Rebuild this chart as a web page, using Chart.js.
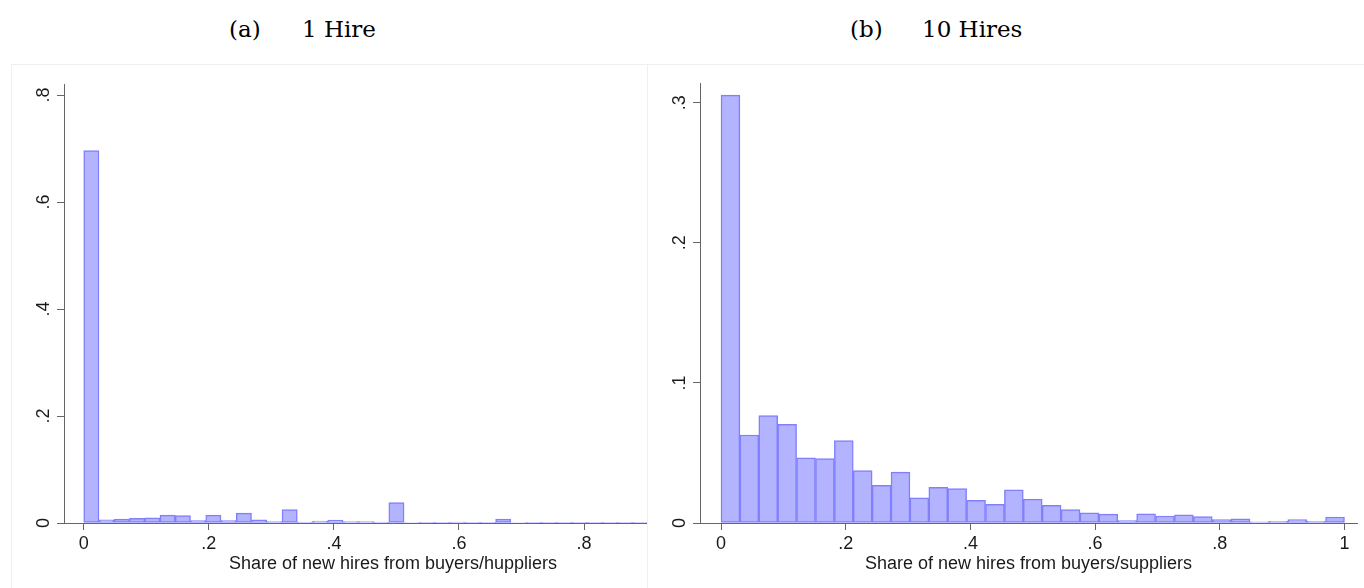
<!DOCTYPE html>
<html>
<head>
<meta charset="utf-8">
<script src="https://cdn.jsdelivr.net/npm/chart.js@4.4.0/dist/chart.umd.min.js"></script>
<style>
  body { margin: 0; background: #fff; width: 1364px; height: 588px; overflow: hidden; position: relative; }
  .title { position: absolute; top: 17.5px; font-family: 'DejaVu Serif', serif; font-size: 23px; line-height: 23px; color: #000; white-space: nowrap; }
  .panel { position: absolute; top: 64px; height: 540px; border: 1px solid #efefef; overflow: hidden; background: #fff; }
  canvas { position: absolute; left: 0; top: 0; }
</style>
</head>
<body>
<div class="title" style="left:229px">(a)</div>
<div class="title" style="left:302px">1 Hire</div>
<div class="title" style="left:850px">(b)</div>
<div class="title" style="left:922px">10 Hires</div>
<div class="panel" style="left:11px;width:635px"><canvas id="chartA" width="740" height="523"></canvas></div>
<div class="panel" style="left:647px;width:730px"><canvas id="chartB" width="716" height="523"></canvas></div>
<script>
// histogram densities; bins are equal width over [0, 1]
const hire1BinCount = 41;
const hire1Share = [0.696, 0.006, 0.0075, 0.0088, 0.0098, 0.0148, 0.014, 0.0047, 0.0148, 0.0047,
                    0.0185, 0.0057, 0.0028, 0.025, 0.0017, 0.0034, 0.0054, 0.0025, 0.0025, 0.0016,
                    0.0384, 0.001, 0.0008, 0.0008, 0.0015, 0.0008, 0.0005, 0.0072, 0.001, 0.0008,
                    0.0012, 0.0008, 0.0007, 0.0006, 0.0006, 0.0005, 0.0005];

const hire10BinCount = 33;
const hire10Share = [0.3055, 0.0628, 0.0766, 0.0704, 0.0466, 0.0459, 0.0588, 0.0375, 0.0269, 0.0363,
                     0.018, 0.0254, 0.0245, 0.0161, 0.0133, 0.0237, 0.017, 0.0126, 0.0096, 0.0072,
                     0.0063, 0.0018, 0.0065, 0.005, 0.0059, 0.0046, 0.0025, 0.003, 0.0008, 0.0012,
                     0.0024, 0.0012, 0.0043];

const xTicks = [0, 0.2, 0.4, 0.6, 0.8, 1];
const xLabels = ['0', '.2', '.4', '.6', '.8', '1'];
const hire1YTicks = [0, 0.2, 0.4, 0.6, 0.8];
const hire1YLabels = ['0', '.2', '.4', '.6', '.8'];
const hire10YTicks = [0, 0.1, 0.2, 0.3];
const hire10YLabels = ['0', '.1', '.2', '.3'];

const axisColor = '#666';
const textColor = '#1a1a1a';
Chart.defaults.font.family = "'Liberation Sans', Arial, sans-serif";

function makeHistogram(id, binCount, shares, yTicks, yLabels, xTitle, frame) {
    const points = shares.map((v, i) => ({ x: (i + 0.5) / binCount, y: v }));
    return new Chart(document.getElementById(id), {
        type: 'bar',
        data: {
            datasets: [{
                data: points,
                backgroundColor: '#b3b3ff',
                borderColor: '#8080ff',
                borderWidth: 1.5,
                borderSkipped: false,
                barPercentage: 1,
                categoryPercentage: 1
            }]
        },
        options: {
            responsive: false,
            animation: false,
            layout: { padding: { left: 0, right: frame.padRight, top: frame.padTop, bottom: 0 } },
            plugins: { legend: { display: false }, tooltip: { enabled: false } },
            scales: {
                x: {
                    type: 'linear',
                    min: frame.xMin,
                    max: frame.xMax,
                    offset: false,
                    grid: { display: true, offset: false, drawOnChartArea: false, tickLength: 7, color: axisColor },
                    border: { display: true, color: axisColor, width: 1 },
                    afterBuildTicks: s => { s.ticks = xTicks.map(v => ({ value: v })); },
                    afterFit: s => { s.height = 65; },
                    ticks: {
                        padding: 3,
                        autoSkip: false,
                        maxRotation: 0,
                        font: { size: 18 },
                        color: textColor,
                        callback: (v, i) => xLabels[i]
                    },
                    title: {
                        display: true,
                        text: xTitle,
                        font: { size: 18 },
                        color: textColor,
                        padding: { top: 0, bottom: 13.5 }
                    }
                },
                y: {
                    min: 0,
                    max: frame.yMax,
                    grid: { display: true, drawOnChartArea: false, tickLength: 7, color: axisColor },
                    border: { display: true, color: axisColor, width: 1 },
                    afterBuildTicks: s => { s.ticks = yTicks.map(v => ({ value: v })); },
                    afterFit: s => { s.width = 52; },
                    ticks: {
                        padding: 5.5,
                        minRotation: 90,
                        maxRotation: 90,
                        crossAlign: 'center',
                        font: { size: 18 },
                        color: textColor,
                        callback: (v, i) => yLabels[i]
                    }
                }
            }
        }
    });
}

makeHistogram('chartA', hire1BinCount, hire1Share, hire1YTicks, hire1YLabels,
    'Share of new hires from buyers/huppliers',
    { xMin: -0.0315, xMax: 1.0205, yMax: 0.8206, padTop: 19, padRight: 30 });

makeHistogram('chartB', hire10BinCount, hire10Share, hire10YTicks, hire10YLabels,
    'Share of new hires from buyers/suppliers',
    { xMin: -0.0337, xMax: 1.0201, yMax: 0.3141, padTop: 18, padRight: 7 });
</script>
</body>
</html>
